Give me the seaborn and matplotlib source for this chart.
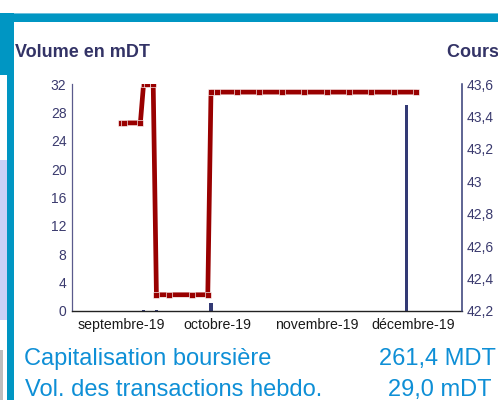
import numpy as np
import pandas as pd
import matplotlib
matplotlib.use("Agg")
import matplotlib.pyplot as plt
import matplotlib.dates as mdates
from matplotlib.patches import Rectangle
import seaborn as sns

# ---------------- data ----------------
price_dates = ["2019-09-01", "2019-09-02", "2019-09-07", "2019-09-08", "2019-09-09",
               "2019-09-11", "2019-09-12", "2019-09-16", "2019-09-23", "2019-09-28",
               "2019-09-29", "2019-10-01", "2019-10-07", "2019-10-14", "2019-10-21",
               "2019-10-28", "2019-11-04", "2019-11-11", "2019-11-18", "2019-11-25",
               "2019-12-02"]
price_values = [43.36, 43.36, 43.36, 43.60, 43.60,
                43.60, 42.30, 42.30, 42.30, 42.30,
                43.55, 43.55, 43.55, 43.55, 43.55,
                43.55, 43.55, 43.55, 43.55, 43.55,
                43.55]

volume_dates = ["2019-09-08", "2019-09-12", "2019-09-29", "2019-11-29"]
volume_values = [0.1, 0.1, 1.1, 29.0]

month_ticks = ["2019-09-01", "2019-10-01", "2019-11-01", "2019-12-01"]
month_labels = ["septembre-19", "octobre-19", "novembre-19", "décembre-19"]

vol_ticks = [0, 4, 8, 12, 16, 20, 24, 28, 32]
cours_ticks = [42.2, 42.4, 42.6, 42.8, 43.0, 43.2, 43.4, 43.6]
cours_labels = ["42,2", "42,4", "42,6", "42,8", "43", "43,2", "43,4", "43,6"]

cap_label = "Capitalisation boursière"
cap_value = "261,4 MDT"
vol_label = "Vol. des transactions hebdo."
vol_value = "29,0 mDT"

# ---------------- style ----------------
sns.set_theme(style="white")
plt.rcParams["font.family"] = ["Liberation Sans", "DejaVu Sans"]

W, H = 498, 400
fig = plt.figure(figsize=(W / 100, H / 100), dpi=100)
fig.patch.set_facecolor("white")

teal = "#0096C3"
navy = "#333A75"
red = "#990000"
blue_txt = "#0E8FD6"

# frame decoration
fig.add_artist(Rectangle((0, 1 - 21.5 / H), 1, 8.5 / H, transform=fig.transFigure,
                         color=teal, lw=0, zorder=0))
fig.add_artist(Rectangle((0, 1 - 14 / H), 1, 1.2 / H, transform=fig.transFigure,
                         color="#6CC0DD", lw=0, zorder=0))
fig.add_artist(Rectangle((0, 1 - 75 / H), 14 / W, 62 / H, transform=fig.transFigure,
                         color=teal, lw=0, zorder=0))
fig.add_artist(Rectangle((7 / W, 0), 7 / W, 325 / H, transform=fig.transFigure,
                         color=teal, lw=0, zorder=0))
fig.add_artist(Rectangle((0, 1 - 320 / H), 7 / W, 160 / H, transform=fig.transFigure,
                         color="#C9D1F7", lw=0, zorder=0))
fig.add_artist(Rectangle((0, 0), 3 / W, 50 / H, transform=fig.transFigure,
                         color="#BDBDBD", lw=0, zorder=0))

ax1 = fig.add_axes([72 / W, 1 - 311 / H, 390 / W, 227 / H])
ax1.set_facecolor("none")
ax2 = ax1.twinx()

# volume bars (left axis)
ax1.bar(pd.to_datetime(volume_dates), volume_values, width=1.0, color=navy,
        linewidth=0, zorder=2)

# price line (right axis)
sns.lineplot(x=pd.to_datetime(price_dates), y=price_values, ax=ax2, color=red,
             linewidth=3.4, marker="s", markersize=4.0, markerfacecolor=red,
             markeredgecolor="white", markeredgewidth=0.45, sort=False)

x0 = mdates.date2num(pd.Timestamp("2019-09-01"))
ax1.set_xlim(x0 - 15.3, x0 + 106.2)
ax1.set_ylim(0, 32)
ax2.set_ylim(42.2, 43.6)

ax1.set_xticks(mdates.date2num(pd.to_datetime(month_ticks)))
ax1.set_xticklabels(month_labels)
ax1.set_yticks(vol_ticks)
ax1.set_yticklabels([str(v) for v in vol_ticks])
ax2.set_yticks(cours_ticks)
ax2.set_yticklabels(cours_labels)

for a in (ax1, ax2):
    a.set_xlabel("")
    a.set_ylabel("")
    a.grid(False)
    a.spines["top"].set_visible(False)

ax1.spines["right"].set_visible(False)
ax1.spines["left"].set_color("#5A5A8C")
ax1.spines["left"].set_linewidth(0.9)
ax1.spines["bottom"].set_color("#222222")
ax1.spines["bottom"].set_linewidth(1.0)
ax2.spines["left"].set_visible(False)
ax2.spines["bottom"].set_visible(False)
ax2.spines["right"].set_color(navy)
ax2.spines["right"].set_linewidth(1.1)

ax1.tick_params(axis="x", length=0, pad=5, labelsize=10.2, colors="#1a1a1a")
ax1.tick_params(axis="y", length=0, pad=4, labelsize=10, colors="#3A3A6E")
ax2.tick_params(axis="y", length=0, pad=3.5, labelsize=10, colors="#3A3A6E")

# titles
fig.text(15 / W, 1 - 57 / H, "Volume en mDT", fontsize=13, weight="bold",
         color="#333366", va="baseline")
fig.text(447 / W, 1 - 57 / H, "Cours en DT", fontsize=13, weight="bold",
         color="#333366", va="baseline")

# bottom info
fig.text(24 / W, 1 - 365 / H, cap_label, fontsize=17, color=blue_txt, va="baseline")
fig.text(496 / W, 1 - 365 / H, cap_value, fontsize=17, color=blue_txt, va="baseline",
         ha="right")
fig.text(25 / W, 1 - 396 / H, vol_label, fontsize=17, color=blue_txt, va="baseline")
fig.text(491 / W, 1 - 396 / H, vol_value, fontsize=17, color=blue_txt, va="baseline",
         ha="right")

fig.savefig("out.png", dpi=100)
